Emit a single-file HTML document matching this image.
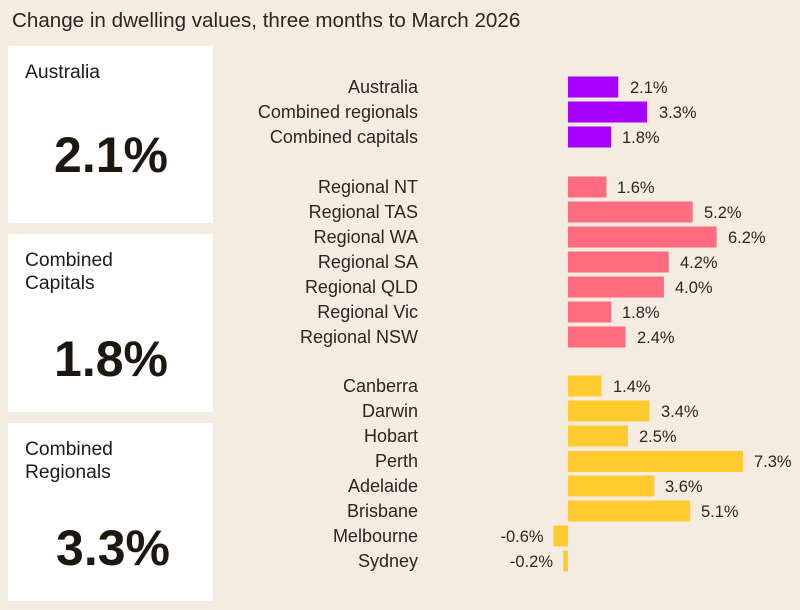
<!DOCTYPE html>
<html><head><meta charset="utf-8"><style>
body{margin:0;background:#f5ece1;}
svg{display:block;font-family:"Liberation Sans",sans-serif;}
</style></head><body>
<svg width="800" height="610" xmlns="http://www.w3.org/2000/svg">
<rect width="800" height="610" fill="#f5ece1"/>
<text x="12" y="27" font-size="20.6" fill="#2a2622">Change in dwelling values, three months to March 2026</text>
<rect x="8" y="46" width="205" height="177" fill="#fff"/>
<rect x="8" y="234" width="205" height="178" fill="#fff"/>
<rect x="8" y="423" width="205" height="178" fill="#fff"/>
<g font-size="19.3" fill="#1d1a17">
<text x="25" y="78">Australia</text>
<text x="25" y="266">Combined</text><text x="25" y="289">Capitals</text>
<text x="25" y="455">Combined</text><text x="25" y="478">Regionals</text>
</g>
<g font-size="50" font-weight="bold" fill="#1e1710" text-anchor="middle">
<text x="111" y="172">2.1%</text>
<text x="111" y="376">1.8%</text>
<text x="113" y="565">3.3%</text>
</g>
<g font-size="18" fill="#2a2622" text-anchor="end">
<text x="418" y="93">Australia</text>
<text x="418" y="118">Combined regionals</text>
<text x="418" y="143">Combined capitals</text>
<text x="418" y="193">Regional NT</text>
<text x="418" y="218">Regional TAS</text>
<text x="418" y="243">Regional WA</text>
<text x="418" y="268">Regional SA</text>
<text x="418" y="293">Regional QLD</text>
<text x="418" y="318">Regional Vic</text>
<text x="418" y="343">Regional NSW</text>
<text x="418" y="392">Canberra</text>
<text x="418" y="417">Darwin</text>
<text x="418" y="442">Hobart</text>
<text x="418" y="467">Perth</text>
<text x="418" y="492">Adelaide</text>
<text x="418" y="517">Brisbane</text>
<text x="418" y="542">Melbourne</text>
<text x="418" y="567">Sydney</text>
</g>
<g font-size="16.5" fill="#2a2622" text-anchor="end">
<text x="543.6" y="542">-0.6%</text>
<text x="553" y="567">-0.2%</text>
</g>
<g fill="#a800ff">
<rect x="568" y="76.5" width="50.3" height="21"/>
<rect x="568" y="101.5" width="79.1" height="21"/>
<rect x="568" y="126.5" width="43.1" height="21"/>
</g>
<g fill="#ff6b7f">
<rect x="568" y="176.5" width="38.4" height="21"/>
<rect x="568" y="201.5" width="124.6" height="21"/>
<rect x="568" y="226.5" width="148.6" height="21"/>
<rect x="568" y="251.5" width="100.7" height="21"/>
<rect x="568" y="276.5" width="95.9" height="21"/>
<rect x="568" y="301.5" width="43.1" height="21"/>
<rect x="568" y="326.5" width="57.5" height="21"/>
</g>
<g fill="#ffcb2f">
<rect x="568" y="375.5" width="33.6" height="21"/>
<rect x="568" y="400.5" width="81.5" height="21"/>
<rect x="568" y="425.5" width="59.9" height="21"/>
<rect x="568" y="451" width="175" height="21"/>
<rect x="568" y="475.5" width="86.3" height="21"/>
<rect x="568" y="500.5" width="122.2" height="21"/>
<rect x="553.6" y="525.5" width="14.4" height="21"/>
<rect x="563.2" y="550.5" width="4.8" height="21"/>
</g>
<g font-size="16.5" fill="#2a2622">
<text x="630" y="93">2.1%</text>
<text x="659" y="118">3.3%</text>
<text x="622" y="143">1.8%</text>
<text x="617" y="193">1.6%</text>
<text x="704" y="218">5.2%</text>
<text x="728" y="243">6.2%</text>
<text x="680" y="268">4.2%</text>
<text x="675" y="293">4.0%</text>
<text x="622" y="318">1.8%</text>
<text x="637" y="343">2.4%</text>
<text x="613" y="392">1.4%</text>
<text x="661" y="417">3.4%</text>
<text x="639" y="442">2.5%</text>
<text x="754" y="467">7.3%</text>
<text x="665" y="492">3.6%</text>
<text x="701" y="517">5.1%</text>
</g>
</svg>
</body></html>
